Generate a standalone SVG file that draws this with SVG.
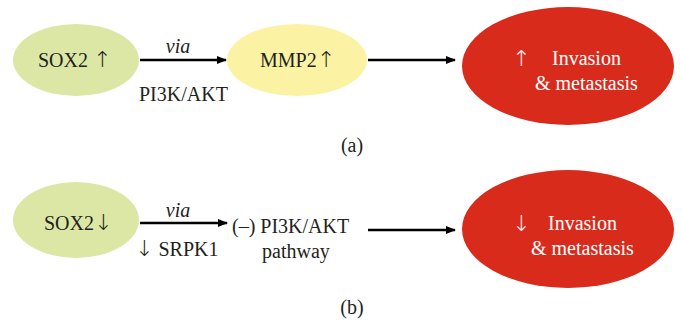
<svg xmlns="http://www.w3.org/2000/svg" width="682" height="323" viewBox="0 0 682 323" font-family="'Liberation Serif', 'DejaVu Serif', serif" font-size="20">
<defs>
<marker id="ah" markerWidth="10" markerHeight="8" refX="9" refY="4" orient="auto" markerUnits="userSpaceOnUse">
<path d="M0,0 L10,4 L0,8 Z" fill="#000"/>
</marker>
<style>
text{font-family:'Liberation Serif','DejaVu Serif',serif;font-size:20px;fill:#231f20}
.w{fill:#fff}
.i{font-style:italic}
.ar{font-family:'DejaVu Sans',sans-serif;font-size:22px;font-weight:200}
.c line{stroke:#000;stroke-width:2.5;marker-end:url(#ah)}
</style>
</defs>
<rect width="682" height="323" fill="#fff"/>
<g id="sox2-up"><ellipse cx="76" cy="60" rx="63" ry="36" fill="#dce6a5"/><text x="38" y="67">SOX2 <tspan class="ar">↑</tspan></text></g>
<g id="mmp2"><ellipse cx="297" cy="60" rx="70" ry="36" fill="#fcf2a3"/><text x="260" y="67">MMP2<tspan class="ar">↑</tspan></text></g>
<g id="inv-a"><ellipse cx="568" cy="66" rx="106" ry="59" fill="#d92b1c"/><text class="w ar" x="512" y="66">↑</text><text class="w" x="552" y="65">Invasion</text><text class="w" x="535" y="90">&amp; metastasis</text></g>
<g id="sox2-down"><ellipse cx="76" cy="220" rx="63" ry="38" fill="#dce6a5"/><text x="44" y="230">SOX2<tspan class="ar">↓</tspan></text></g>
<g id="pi3k-b"><text x="232" y="233">(–) PI3K/AKT</text><text x="262" y="258">pathway</text></g>
<g id="inv-b"><ellipse cx="568" cy="229" rx="106" ry="59" fill="#d92b1c"/><text class="w ar" x="512" y="231">↓</text><text class="w" x="548" y="230">Invasion</text><text class="w" x="531" y="255">&amp; metastasis</text></g>
<g class="c">
<line x1="140" y1="60" x2="226" y2="60"/>
<line x1="368" y1="60" x2="455" y2="60"/>
<line x1="140" y1="223" x2="227" y2="223"/>
<line x1="368" y1="230" x2="455" y2="230"/>
</g>
<g id="labels">
<text class="i" x="178" y="53" text-anchor="middle">via</text>
<text x="139" y="101">PI3K/AKT</text>
<text class="i" x="178" y="217" text-anchor="middle">via</text>
<text x="135" y="256"><tspan class="ar">↓</tspan> SRPK1</text>
<text x="352" y="152" text-anchor="middle">(a)</text>
<text x="352" y="314" text-anchor="middle">(b)</text>
</g>
</svg>
